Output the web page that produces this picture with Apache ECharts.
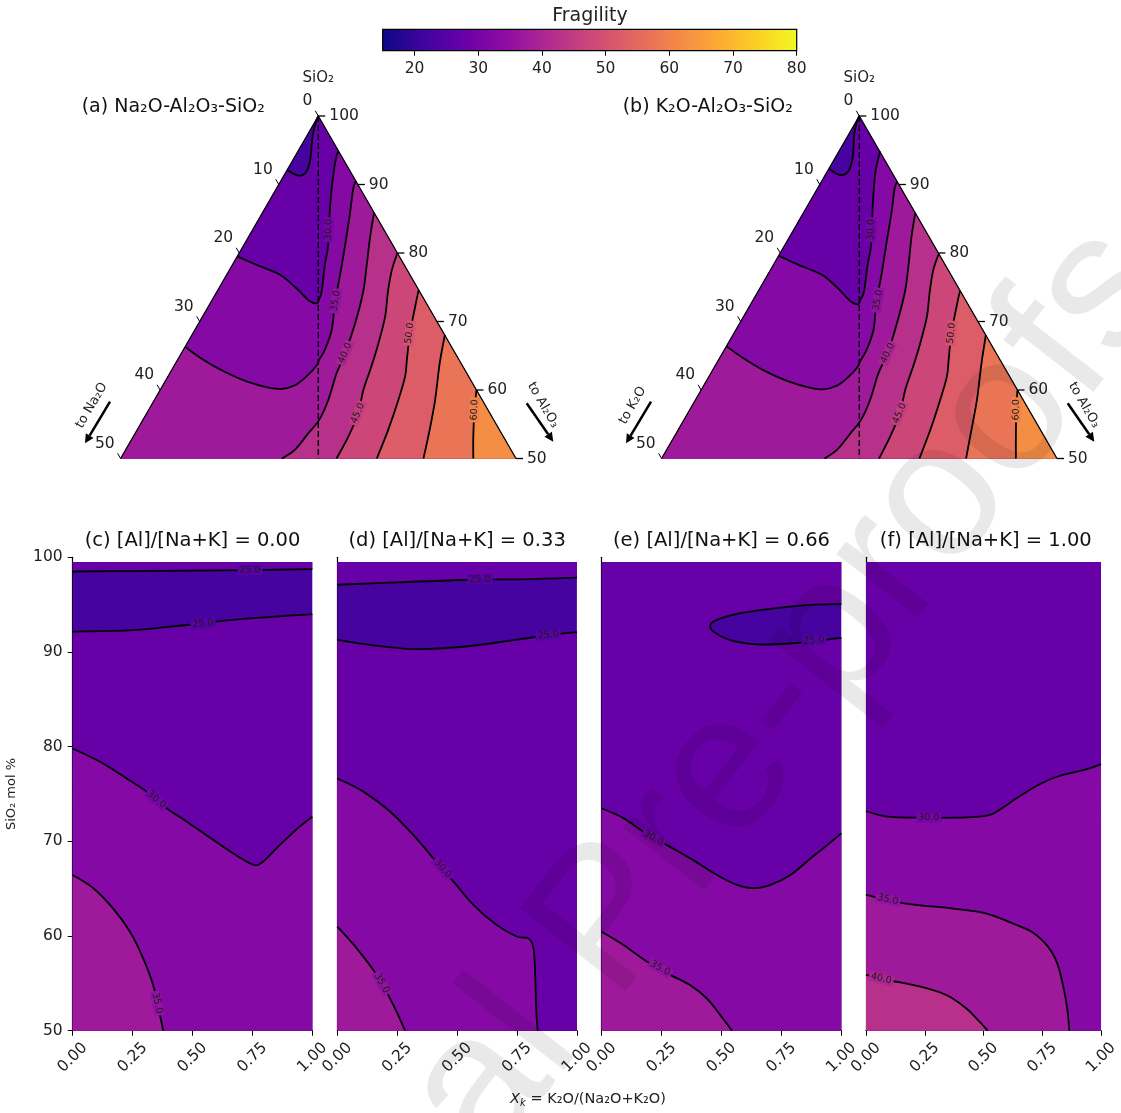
<!DOCTYPE html>
<html><head><meta charset="utf-8">
<script src="https://cdn.jsdelivr.net/npm/echarts@6/dist/echarts.min.js"></script>
<style>html,body{margin:0;padding:0;background:#fff}#c{width:1121px;height:1113px}</style>
</head><body><div id="c"></div>
<script>
// ---------------- data ----------------
const CB_RANGE = [15, 80];
const CB_TICKS = [20, 30, 40, 50, 60, 70, 80];
const LEVEL_STEP = 5;
const SIO2_TICKS = [100, 90, 80, 70, 60, 50];
const ALKALI_TICKS = [0, 10, 20, 30, 40, 50];
const TERN_TITLES = ['(a) Na₂O-Al₂O₃-SiO₂', '(b) K₂O-Al₂O₃-SiO₂'];
const TERN_ALKALI = ['Na₂O', 'K₂O'];
const PANEL_TITLES = ['(c) [Al]/[Na+K] = 0.00', '(d) [Al]/[Na+K] = 0.33', '(e) [Al]/[Na+K] = 0.66', '(f) [Al]/[Na+K] = 1.00'];
const XK_RANGE = [0, 1];
const XK_STEP = 0.25;
const SIO2_AXIS = [50, 100];
const SIO2_STEP = 10;
const SIO2_DATA_TOP = 99.5;

// ternary contours: [SiO2, Al2O3] (mol %)
const TA_25 = [[92.1,0],[91.3,1.8],[91.6,2.5],[92.9,2.4],[94.8,1.7],[97.2,0.7],[99.2,0.1],[100,0]];
const TA_30 = [[79.5,0],[78.25,3.1],[76.8,6.8],[74.85,9.8],[73.15,12.15],[72.65,13.45],[73.4,13.45],[74.35,13.25],[78.25,11.7],[81.2,10.65],[87.0,8.0],[91.9,6.0],[94.3,5.2],[94.8,5.2]];
const TA_35 = [[66.3,0],[64.6,2.9],[62.9,6.3],[61.2,10.5],[60.15,14.9],[60.7,16.7],[62.2,17.6],[63.65,18.0],[64.4,17.9],[65.8,17.9],[68.8,17.3],[72.7,15.75],[76.8,14.35],[81.2,12.8],[85.55,11.2],[89.45,9.7],[90.5,9.5]];
const TA_40 = [[50,20.4],[51.25,21.4],[53.7,21.9],[55.6,22.3],[58.5,22.0],[62.4,21.1],[65.4,20.7],[69.7,19.8],[74.35,18.5],[78.25,17.0],[82.15,15.45],[85.05,14.4],[85.85,14.15]];
const TA_45 = [[50,27.3],[53.2,27.2],[56.6,26.75],[60.0,25.7],[63.4,25.0],[66.8,24.2],[70.7,23.1],[74.3,21.65],[77.5,20.55],[80.0,20.0]];
const TA_50 = [[50,32.4],[54.15,31.75],[58.55,30.85],[61.95,30.0],[64.4,29.0],[68.3,27.45],[73.15,25.85],[74.6,25.4]];
const TA_55 = [[50,38.3],[54.15,37.0],[58.55,35.5],[63.9,33.4],[68.0,32.0]];
const TA_60 = [[50,44.6],[53.2,43.0],[57.1,41.2],[60.0,40.0]];
const TA_LABELS = [[30,83.4,9.6],[35,73.0,15.7],[40,65.4,20.7],[45,56.6,26.7],[50,68.3,27.4],[60,57.1,41.2]];

const TB_25 = [[92.3,0],[91.4,1.8],[91.7,2.6],[93.0,2.5],[94.9,1.8],[97.3,0.7],[99.2,0.1],[100,0]];
const TB_30 = [[79.6,0],[78.3,3.1],[76.85,6.8],[74.9,9.8],[73.1,12.2],[72.5,13.55],[73.3,13.55],[74.4,13.4],[78.3,11.9],[81.2,10.9],[87.0,8.2],[91.9,6.1],[94.5,5.3],[94.9,5.1]];
const TB_35 = [[66.4,0],[64.7,2.9],[62.9,6.4],[61.2,10.6],[60.1,15.0],[60.6,16.8],[62.0,17.7],[63.4,18.1],[64.2,18.0],[65.8,18.0],[68.8,17.4],[72.7,15.8],[76.8,14.4],[81.2,12.8],[85.55,11.25],[89.45,9.75],[90.4,9.6]];
const TB_40 = [[50,20.6],[51.3,21.55],[53.7,22.05],[55.6,22.4],[58.5,22.1],[62.4,21.2],[65.4,20.9],[69.7,19.9],[74.35,18.6],[78.25,17.1],[82.15,15.5],[85.0,14.45],[85.8,14.2]];
const TB_45 = [[50,27.5],[53.2,27.3],[56.6,26.85],[60.0,25.8],[63.4,25.1],[66.8,24.3],[70.7,23.2],[74.3,21.75],[77.5,20.6],[79.9,20.1]];
const TB_50 = [[50,32.6],[54.15,31.9],[58.55,30.95],[61.95,30.1],[64.4,29.1],[68.3,27.5],[73.15,25.9],[74.5,25.5]];
const TB_55 = [[50,38.5],[54.15,37.1],[58.55,35.6],[63.9,33.5],[68.0,32.0]];
const TB_60 = [[50,44.8],[53.2,43.2],[57.1,41.3],[60.0,40.0]];
const TB_LABELS = [[30,83.4,9.8],[35,73.1,15.8],[40,65.4,20.9],[45,56.6,26.8],[50,68.3,27.5],[60,57.1,41.3]];

// bottom panels: [Xk, SiO2]
const C_25U = [[1,98.75],[0.75,98.65],[0.5,98.6],[0.25,98.55],[0,98.5]];
const C_25L = [[0,92.15],[0.25,92.3],[0.475,92.85],[0.67,93.4],[1,94.0]];
const C_30 = [[0,79.8],[0.114,78.4],[0.225,76.65],[0.308,75.25],[0.392,73.5],[0.475,72.1],[0.558,70.65],[0.669,68.75],[0.753,67.55],[0.794,67.85],[0.864,69.6],[0.947,71.55],[1,72.6]];
const C_35 = [[0,66.45],[0.086,65.05],[0.169,62.9],[0.239,60.45],[0.294,57.65],[0.336,54.8],[0.364,51.65],[0.378,50]];
const C_LABELS = [[25,0.74,98.65],[25,0.544,93.0],[30,0.35,74.4],[35,0.352,52.9]];

const D_25U = [[1,97.85],[0.805,97.7],[0.526,97.6],[0.248,97.35],[0,97.1]];
const D_25L = [[0,91.27],[0.136,90.75],[0.318,90.3],[0.526,90.55],[0.735,91.25],[0.875,91.75],[1,92.1]];
const D_30 = [[0,76.65],[0.109,75.25],[0.22,73.15],[0.318,70.65],[0.401,68.2],[0.485,65.75],[0.568,63.3],[0.666,61.15],[0.749,59.95],[0.798,59.75],[0.819,58.7],[0.826,55.9],[0.83,52.35],[0.836,50]];
const D_35 = [[0,61],[0.081,58.7],[0.164,55.9],[0.234,52.7],[0.283,50]];
const D_LABELS = [[25,0.596,97.65],[25,0.88,91.8],[30,0.44,67.1],[35,0.185,55.0]];

const E_25 = [[1,95.07],[0.858,94.95],[0.718,94.6],[0.579,94.1],[0.481,93.4],[0.453,92.85],[0.467,92.15],[0.537,91.25],[0.649,90.8],[0.788,90.9],[0.927,91.25],[1,91.5]];
const E_30 = [[0,73.5],[0.091,72.45],[0.174,71.0],[0.272,69.6],[0.37,68.2],[0.481,66.45],[0.565,65.4],[0.635,65.05],[0.704,65.4],[0.788,66.45],[0.872,68.2],[0.941,69.6],[1,70.85]];
const E_35 = [[0,60.45],[0.091,59.05],[0.188,57.3],[0.286,55.9],[0.37,54.8],[0.439,53.4],[0.495,51.65],[0.544,50]];
const E_LABELS = [[25,0.886,91.2],[30,0.216,70.35],[35,0.244,56.6]];

const F_30 = [[0,73.2],[0.093,72.6],[0.232,72.5],[0.371,72.5],[0.51,72.7],[0.566,73.3],[0.65,74.7],[0.733,75.95],[0.816,76.85],[0.928,77.55],[1,78.15]];
const F_35 = [[0,64.35],[0.163,63.45],[0.371,62.9],[0.51,62.4],[0.622,61.35],[0.705,60.45],[0.775,58.85],[0.816,56.95],[0.844,54.1],[0.858,52.0],[0.865,50]];
const F_40 = [[0,55.9],[0.093,55.35],[0.232,54.65],[0.344,53.75],[0.427,52.35],[0.483,50.95],[0.518,50]];
const F_LABELS = [[30,0.267,72.5],[35,0.093,63.85],[40,0.065,55.5]];

const WATERMARK = 'Journal Pre-proofs';

// ---------------- helpers ----------------
const FONT = 'DejaVu Sans';
const PLASMA = [[13,8,135],[65,4,157],[106,0,168],[143,13,164],[177,42,144],[204,71,120],[225,100,98],[242,132,75],[252,166,54],[252,206,37],[240,249,33]];
function plasmaRGB(t){ t=Math.max(0,Math.min(1,t)); const f=t*10; const i=Math.min(9,Math.floor(f)); const u=f-i; const a=PLASMA[i], b=PLASMA[i+1]; return [0,1,2].map(k=>a[k]+(b[k]-a[k])*u); }
const rgbStr = c => 'rgb(' + c.map(Math.round).join(',') + ')';
const bandRGB = lo => plasmaRGB((lo + LEVEL_STEP/2 - CB_RANGE[0]) / (CB_RANGE[1] - CB_RANGE[0]));
const bandColor = lo => rgbStr(bandRGB(lo));
const labelBg = lv => { const a=bandRGB(lv-LEVEL_STEP), b=bandRGB(lv); return rgbStr(a.map((v,i)=>(v+b[i])/2)); };
const SQ3 = Math.sqrt(3)/2;
function tern(s, a){ const w=(s-50)/50; return [a/50 + 0.5*w, w*SQ3]; }
const fmt = p => p[0].toFixed(2) + ' ' + p[1].toFixed(2);
function curveD(px){
  let d = 'M' + fmt(px[0]);
  for (let i=0;i<px.length-1;i++){
    const p0=px[Math.max(0,i-1)], p1=px[i], p2=px[i+1], p3=px[Math.min(px.length-1,i+2)];
    const c1=[p1[0]+(p2[0]-p0[0])/6, p1[1]+(p2[1]-p0[1])/6];
    const c2=[p2[0]-(p3[0]-p1[0])/6, p2[1]-(p3[1]-p1[1])/6];
    d += ' C' + fmt(c1) + ' ' + fmt(c2) + ' ' + fmt(p2);
  }
  return d;
}
function project(p, corners){
  let best=null; const n=corners.length;
  for (let i=0;i<n;i++){
    const a=corners[i], b=corners[(i+1)%n]; const vx=b[0]-a[0], vy=b[1]-a[1];
    let t=((p[0]-a[0])*vx+(p[1]-a[1])*vy)/(vx*vx+vy*vy); t=Math.max(0,Math.min(1,t));
    const q=[a[0]+t*vx, a[1]+t*vy]; const d=Math.hypot(p[0]-q[0], p[1]-q[1]);
    if (!best || d < best.d - 1e-9) best={d, q, pos:i+t};
  }
  return best;
}
function closeD(endPos, startPos, corners){
  const n=corners.length; const total=((startPos-endPos)%n+n)%n; const list=[];
  for (let k=0;k<n;k++){ const d=((k-endPos)%n+n)%n; if (d>1e-6 && d<total-1e-6) list.push([d,k]); }
  list.sort((x,y)=>x[0]-y[0]);
  return list.map(e=>' L'+fmt(corners[e[1]])).join('') + ' Z';
}
function segDist(p,a,b){ const vx=b[0]-a[0], vy=b[1]-a[1]; let t=((p[0]-a[0])*vx+(p[1]-a[1])*vy)/(vx*vx+vy*vy||1); t=Math.max(0,Math.min(1,t)); return Math.hypot(p[0]-a[0]-t*vx, p[1]-a[1]-t*vy); }
function txt(t, x, y, align, size, rot){ return {type:'text', x:x, y:y, rotation:rot||0, style:{text:t, x:0, y:0, fill:'#222', fontSize:size||15.5, fontFamily:FONT, align:align, verticalAlign:'middle'}}; }
function arrow(kids, a, b){
  const dx=b[0]-a[0], dy=b[1]-a[1], L=Math.hypot(dx,dy), ux=dx/L, uy=dy/L, hl=9, hw=4.5;
  const base=[b[0]-ux*hl, b[1]-uy*hl];
  kids.push({type:'line', shape:{x1:a[0],y1:a[1],x2:base[0],y2:base[1]}, style:{stroke:'#000', lineWidth:2.5}});
  kids.push({type:'polygon', shape:{points:[b,[base[0]-uy*hw, base[1]+ux*hw],[base[0]+uy*hw, base[1]-ux*hw]]}, style:{fill:'#000'}});
}

function panelRender(spec){
  return function(params, api){
    const P = p => api.coord(spec.toXY(p));
    const corners = spec.domain.map(P);
    const kids = [];
    const minL = Math.min.apply(null, spec.contours.map(c=>c[0]));
    kids.push({type:'polygon', shape:{points:corners}, style:{fill:bandColor(minL-LEVEL_STEP)}});
    const sorted = spec.contours.slice().sort((a,b)=>a[0]-b[0]);
    const strokes=[], cache=[];
    sorted.forEach(c => {
      const lv=c[0]; const px=c[1].map(P);
      const s=project(px[0], corners), e=project(px[px.length-1], corners);
      px[0]=s.q; px[px.length-1]=e.q;
      const d=curveD(px);
      kids.push({type:'path', shape:{pathData: d + closeD(e.pos, s.pos, corners)}, style:{fill:bandColor(lv)}});
      strokes.push({type:'path', shape:{pathData:d}, style:{fill:'none', stroke:'#000', lineWidth:1.8}});
      cache.push([lv, px]);
    });
    if (spec.under) spec.under(P, corners, kids);
    strokes.forEach(s=>kids.push(s));
    spec.labels.forEach(l => {
      const lv=l[0]; const p=P([l[1], l[2]]); let best=null;
      cache.forEach(c => { if (c[0]!==lv) return; const px=c[1];
        for (let i=0;i<px.length-1;i++){ const dd=segDist(p,px[i],px[i+1]); if(!best||dd<best.d) best={d:dd,a:px[i],b:px[i+1]}; } });
      let ang = best ? Math.atan2(-(best.b[1]-best.a[1]), best.b[0]-best.a[0]) : 0;
      if (ang > Math.PI/2) ang -= Math.PI; if (ang < -Math.PI/2) ang += Math.PI;
      kids.push({type:'text', x:p[0], y:p[1], rotation:ang, style:{text:lv.toFixed(1), x:0, y:0, fill:'#1a1a1a', fontSize:9.5, fontFamily:FONT, align:'center', verticalAlign:'middle', backgroundColor:labelBg(lv), padding:[0,2]}});
    });
    if (spec.over) spec.over(P, corners, kids);
    return {type:'group', children:kids};
  };
}

function ternUnder(P, corners, kids){
  const a=P([100,0]), b=P([50,25]);
  kids.push({type:'line', shape:{x1:a[0],y1:a[1],x2:b[0],y2:b[1]}, style:{stroke:'#000', lineWidth:1.4, lineDash:[6,3]}});
}
function ternOver(alkali){
  return function(P, corners, kids){
    const apex=corners[0], br=corners[1], bl=corners[2];
    kids.push({type:'polyline', shape:{points:[bl, apex, br]}, style:{stroke:'#000', lineWidth:1.3, fill:'none'}});
    SIO2_TICKS.forEach(s => { const p=P([s,100-s]);
      kids.push({type:'line', shape:{x1:p[0],y1:p[1],x2:p[0]+7,y2:p[1]}, style:{stroke:'#000', lineWidth:1.3}});
      kids.push(txt(String(s), p[0]+11, p[1], 'left')); });
    ALKALI_TICKS.forEach(n => { const p=P([100-n,0]);
      kids.push({type:'line', shape:{x1:p[0],y1:p[1],x2:p[0]-3,y2:p[1]-5.2}, style:{stroke:'#000', lineWidth:1}});
      kids.push(txt(String(n), p[0]-6, p[1]-15, 'right')); });
    kids.push(txt('SiO₂', apex[0], apex[1]-38, 'center', 15));
    arrow(kids, [bl[0]-10.6, bl[1]-56.8], [bl[0]-35.6, bl[1]-15.2]);
    kids.push(txt('to ' + alkali, bl[0]-29, bl[1]-53, 'center', 13, Math.PI/3));
    arrow(kids, [br[0]+10.7, br[1]-55.2], [br[0]+37.3, br[1]-16.8]);
    kids.push(txt('to Al₂O₃', br[0]+27, br[1]-53.5, 'center', 13, -Math.PI/3));
  };
}

const ternDomain = [[100,0],[50,50],[50,0]];
const rectDomain = [[XK_RANGE[0],SIO2_DATA_TOP],[XK_RANGE[1],SIO2_DATA_TOP],[XK_RANGE[1],SIO2_AXIS[0]],[XK_RANGE[0],SIO2_AXIS[0]]];
const ternToXY = p => tern(p[0], p[1]);
const idXY = p => p;

const specs = [
  {grid:1, toXY:ternToXY, domain:ternDomain, contours:[[25,TA_25],[30,TA_30],[35,TA_35],[40,TA_40],[45,TA_45],[50,TA_50],[55,TA_55],[60,TA_60]], labels:TA_LABELS, under:ternUnder, over:ternOver(TERN_ALKALI[0])},
  {grid:2, toXY:ternToXY, domain:ternDomain, contours:[[25,TB_25],[30,TB_30],[35,TB_35],[40,TB_40],[45,TB_45],[50,TB_50],[55,TB_55],[60,TB_60]], labels:TB_LABELS, under:ternUnder, over:ternOver(TERN_ALKALI[1])},
  {grid:3, toXY:idXY, domain:rectDomain, contours:[[25,C_25U],[25,C_25L],[30,C_30],[35,C_35]], labels:C_LABELS},
  {grid:4, toXY:idXY, domain:rectDomain, contours:[[25,D_25U],[25,D_25L],[30,D_30],[35,D_35]], labels:D_LABELS},
  {grid:5, toXY:idXY, domain:rectDomain, contours:[[25,E_25],[30,E_30],[35,E_35]], labels:E_LABELS},
  {grid:6, toXY:idXY, domain:rectDomain, contours:[[30,F_30],[35,F_35],[40,F_40]], labels:F_LABELS}
];

// ---------------- layout ----------------
const TERN_GRIDS = [{left:120.6, top:116, width:395.4, height:342.5},{left:661.6, top:116, width:395.4, height:342.5}];
const PANEL_LEFTS = [72.7, 337.3, 601.7, 866];
const PANEL_W = 239.6, PANEL_TOP = 557.3, PANEL_H = 473.4;

const grids = [{left:382.7, top:29.3, width:414, height:21.4}].concat(TERN_GRIDS).concat(PANEL_LEFTS.map(l=>({left:l, top:PANEL_TOP, width:PANEL_W, height:PANEL_H})));
const labelStyle = {fontSize:15.5, color:'#222', fontFamily:FONT};
const xAxes = [
  {gridIndex:0, type:'value', min:CB_RANGE[0], max:CB_RANGE[1], axisLine:{show:false}, splitLine:{show:false},
   axisTick:{show:true, customValues:CB_TICKS, length:5, lineStyle:{color:'#000'}},
   axisLabel:Object.assign({customValues:CB_TICKS, margin:10}, labelStyle)},
  {gridIndex:1, type:'value', min:0, max:1, show:false},
  {gridIndex:2, type:'value', min:0, max:1, show:false}
];
const yAxes = [
  {gridIndex:0, type:'value', min:0, max:1, show:false},
  {gridIndex:1, type:'value', min:0, max:SQ3, show:false},
  {gridIndex:2, type:'value', min:0, max:SQ3, show:false}
];
PANEL_LEFTS.forEach((l,i)=>{
  xAxes.push({gridIndex:3+i, type:'value', min:XK_RANGE[0], max:XK_RANGE[1], interval:XK_STEP,
    axisLine:{show:true, onZero:false, lineStyle:{color:'#000', width:1.2}}, splitLine:{show:false},
    axisTick:{show:true, length:5, lineStyle:{color:'#000'}},
    axisLabel:Object.assign({rotate:45, margin:27, align:'center', verticalAlign:'middle', formatter:v=>v.toFixed(2)}, labelStyle)});
  yAxes.push({gridIndex:3+i, type:'value', min:SIO2_AXIS[0], max:SIO2_AXIS[1], interval:SIO2_STEP,
    axisLine:{show:true, onZero:false, lineStyle:{color:'#000', width:1.2}}, splitLine:{show:false},
    axisTick:{show:i===0, length:5, lineStyle:{color:'#000'}},
    axisLabel:Object.assign({show:i===0, margin:10}, labelStyle),
    name: i===0 ? 'SiO₂ mol %' : '', nameLocation:'middle', nameGap:55, nameRotate:90,
    nameTextStyle:{fontSize:13, color:'#222', fontFamily:FONT}});
});

const series = [{
  type:'custom', coordinateSystem:'cartesian2d', xAxisIndex:0, yAxisIndex:0, silent:true, data:[[50,0.5]],
  renderItem:function(params, api){
    const a=api.coord([CB_RANGE[0],0]), b=api.coord([CB_RANGE[1],1]);
    return {type:'rect', shape:{x:a[0], y:b[1], width:b[0]-a[0], height:a[1]-b[1]},
      style:{fill:new echarts.graphic.LinearGradient(0,0,1,0, PLASMA.map((c,i)=>({offset:i/10, color:rgbStr(c)}))), stroke:'#000', lineWidth:1.2}};
  }
}];
specs.forEach(s => series.push({type:'custom', coordinateSystem:'cartesian2d', xAxisIndex:s.grid, yAxisIndex:s.grid, silent:true, data:[[0.5,0.3]], renderItem:panelRender(s)}));

const graphics = [
  {type:'text', x:590, y:16.5, style:{text:'Fragility', fontSize:19, fontFamily:FONT, fill:'#222', align:'center', verticalAlign:'middle'}},
  {type:'text', x:81.7, y:107, style:{text:TERN_TITLES[0], fontSize:19, fontFamily:FONT, fill:'#111', align:'left', verticalAlign:'middle'}},
  {type:'text', x:622.7, y:107, style:{text:TERN_TITLES[1], fontSize:19, fontFamily:FONT, fill:'#111', align:'left', verticalAlign:'middle'}},
  {type:'text', x:588, y:1099, style:{text:'{i|X}{s|k} = K₂O/(Na₂O+K₂O)', fontSize:14.5, fontFamily:FONT, fill:'#222', align:'center', verticalAlign:'middle',
     rich:{i:{fontStyle:'italic', fontSize:14.5, fontFamily:FONT, fill:'#222'}, s:{fontStyle:'italic', fontSize:10, fontFamily:FONT, fill:'#222', padding:[8,0,0,0]}}}},
  {type:'text', x:640, y:885, rotation:52*Math.PI/180, z:100, silent:true,
   style:{text:WATERMARK, fontSize:195, fontFamily:'Liberation Sans', fill:'rgba(0,0,0,0.085)', align:'center', verticalAlign:'middle'}}
];
PANEL_TITLES.forEach((t,i)=>graphics.push({type:'text', x:PANEL_LEFTS[i]+PANEL_W/2, y:541, style:{text:t, fontSize:19.5, fontFamily:FONT, fill:'#111', align:'center', verticalAlign:'middle'}}));

const chart = echarts.init(document.getElementById('c'), null, {renderer:'canvas', width:1121, height:1113});
chart.setOption({animation:false, backgroundColor:'#fff', grid:grids, xAxis:xAxes, yAxis:yAxes, series:series, graphic:graphics});
</script></body></html>
